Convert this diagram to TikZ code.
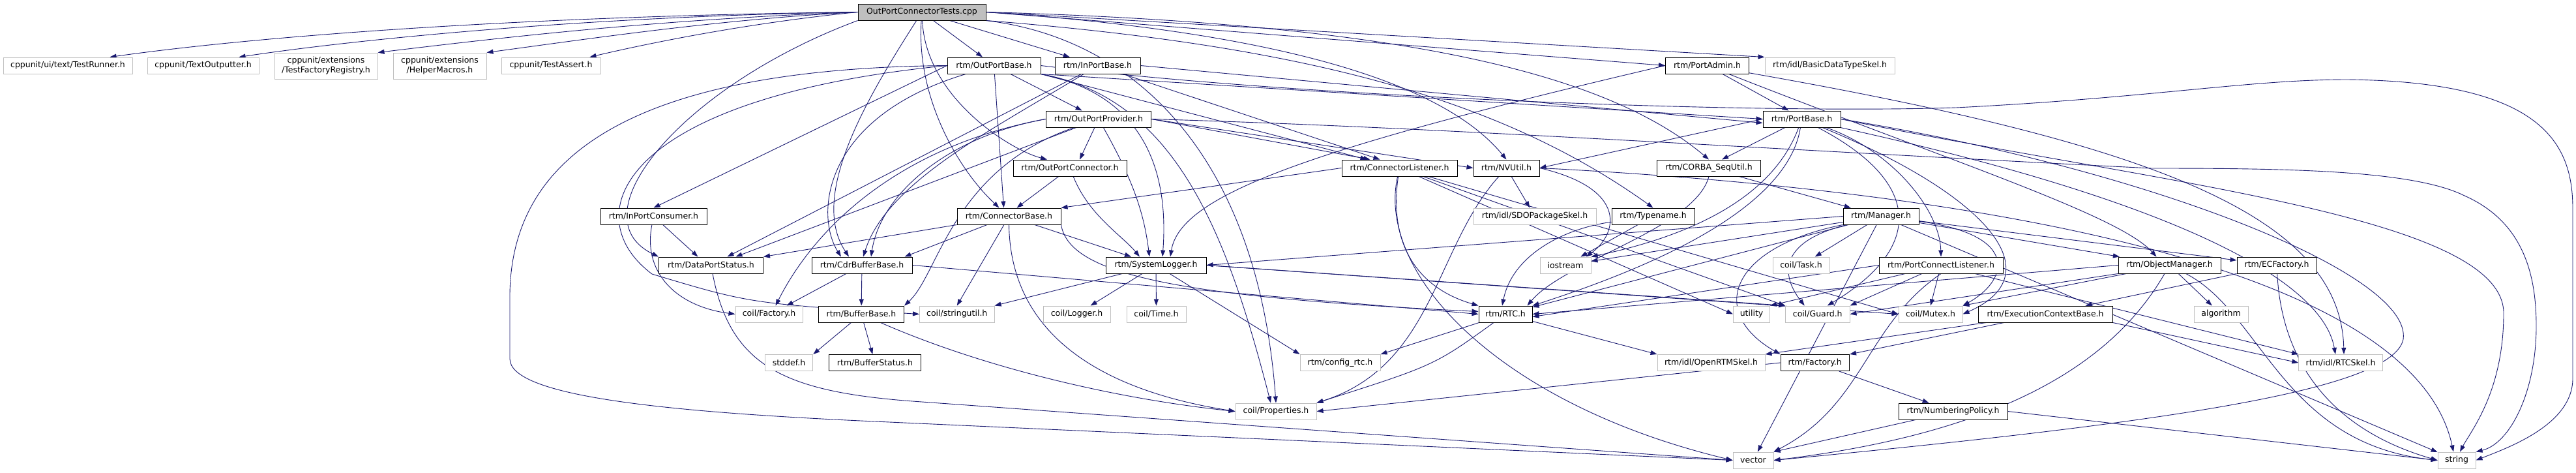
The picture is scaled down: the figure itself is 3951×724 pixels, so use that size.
\documentclass[tikz,border=0pt]{standalone}
\usepackage{fontspec}
\setmainfont{DejaVu Sans}
\usetikzlibrary{arrows.meta}
\pgfdeclarelayer{bg}
\pgfsetlayers{bg,main}
\definecolor{edgec}{RGB}{25,25,112}
\definecolor{gborder}{RGB}{191,191,191}
\definecolor{rootfill}{RGB}{191,191,191}
\tikzset{
  hbox/.style={draw=black, fill=white, line width=1pt, inner sep=0pt,
    minimum height=25pt, font=\fontsize{12.5}{15}\selectfont, align=center},
  gbox/.style={hbox, draw=gborder},
  rbox/.style={hbox, fill=rootfill},
  tallbox/.style={minimum height=40pt},
  dep/.style={draw=edgec, line width=0.9pt, -{Triangle[length=10pt,width=7pt]}},
}
\newcommand{\mkn}[6]{\node[#1, minimum width=#5pt] (#2) at (#3,#4) {#6};}
\begin{document}
\begin{tikzpicture}[x=1pt,y=-1pt]
\useasboundingbox (0,0) rectangle (3951,724);
% ---- nodes
\mkn{rbox}{R}{1414}{18.5}{196}{OutPortConnectorTests.cpp}
\mkn{gbox}{tr}{104}{100.5}{198}{cppunit/ui/text/TestRunner.h}
\mkn{gbox}{to}{311.5}{100.5}{171}{cppunit/TextOutputter.h}
\mkn{gbox,tallbox}{tfr}{500}{101}{158}{cppunit/extensions\\/TestFactoryRegistry.h}
\mkn{gbox,tallbox}{hm}{674.5}{101}{143}{cppunit/extensions\\/HelperMacros.h}
\mkn{gbox}{ta}{845}{100.5}{152}{cppunit/TestAssert.h}
\mkn{hbox}{opb}{1524.5}{100.5}{143}{rtm/OutPortBase.h}
\mkn{hbox}{ipb}{1683.5}{100.5}{131}{rtm/InPortBase.h}
\mkn{hbox}{pa}{2618.5}{100.5}{128}{rtm/PortAdmin.h}
\mkn{gbox}{bdt}{2806.5}{100.5}{199}{rtm/idl/BasicDataTypeSkel.h}
\mkn{hbox}{opp}{1685}{182.5}{161.5}{rtm/OutPortProvider.h}
\mkn{hbox}{pb}{2763.5}{182.5}{119}{rtm/PortBase.h}
\mkn{hbox}{opc}{1641}{257.5}{174}{rtm/OutPortConnector.h}
\mkn{hbox}{cl}{2146.5}{257.5}{177}{rtm/ConnectorListener.h}
\mkn{hbox}{nv}{2310.5}{257.5}{101}{rtm/NVUtil.h}
\mkn{hbox}{cs}{2621}{257.5}{158.5}{rtm/CORBA\_SeqUtil.h}
\mkn{hbox}{ipc}{1002.5}{331.5}{163}{rtm/InPortConsumer.h}
\mkn{hbox}{cb}{1547.5}{331.5}{159}{rtm/ConnectorBase.h}
\mkn{gbox}{sdo}{2354}{331.5}{188}{rtm/idl/SDOPackageSkel.h}
\mkn{hbox}{tn}{2535.5}{331.5}{127}{rtm/Typename.h}
\mkn{hbox}{mg}{2885}{331.5}{116}{rtm/Manager.h}
\mkn{hbox}{dps}{1090.5}{406.5}{160}{rtm/DataPortStatus.h}
\mkn{hbox}{cdr}{1322}{406.5}{154}{rtm/CdrBufferBase.h}
\mkn{hbox}{sl}{1773}{406.5}{154}{rtm/SystemLogger.h}
\mkn{gbox}{ios}{2401}{406.5}{78}{iostream}
\mkn{gbox}{task}{2762.5}{406.5}{87}{coil/Task.h}
\mkn{hbox}{pcl}{2977}{406.5}{190}{rtm/PortConnectListener.h}
\mkn{hbox}{om}{3327.5}{406.5}{157}{rtm/ObjectManager.h}
\mkn{hbox}{ecf}{3492}{406.5}{122}{rtm/ECFactory.h}
\mkn{gbox}{cf}{1179.5}{481.5}{103}{coil/Factory.h}
\mkn{hbox}{bb}{1321}{481.5}{131}{rtm/BufferBase.h}
\mkn{gbox}{su}{1467.75}{481.5}{114.5}{coil/stringutil.h}
\mkn{gbox}{lg}{1651.5}{481.5}{103}{coil/Logger.h}
\mkn{gbox}{tm}{1773.5}{481.5}{91}{coil/Time.h}
\mkn{hbox}{rtc}{2309}{481.5}{82}{rtm/RTC.h}
\mkn{gbox}{ut}{2686.5}{481.5}{56}{utility}
\mkn{gbox}{gd}{2787.75}{481.5}{98.5}{coil/Guard.h}
\mkn{gbox}{mx}{2961}{481.5}{98}{coil/Mutex.h}
\mkn{hbox}{ecb}{3137}{481.5}{206}{rtm/ExecutionContextBase.h}
\mkn{gbox}{alg}{3406.5}{481.5}{83}{algorithm}
\mkn{gbox}{sd}{1210}{556}{73.5}{stddef.h}
\mkn{hbox}{bs}{1342}{556}{141.5}{rtm/BufferStatus.h}
\mkn{gbox}{cr}{2055.5}{556}{123}{rtm/config\_rtc.h}
\mkn{gbox}{ors}{2624.5}{556}{165}{rtm/idl/OpenRTMSkel.h}
\mkn{hbox}{rf}{2783.75}{556}{105.5}{rtm/Factory.h}
\mkn{gbox}{rsk}{3590}{556}{128.5}{rtm/idl/RTCSkel.h}
\mkn{gbox}{prop}{1957}{630.5}{124}{coil/Properties.h}
\mkn{hbox}{np}{2995.5}{630.5}{167}{rtm/NumberingPolicy.h}
\mkn{gbox}{vec}{2689}{705.5}{62}{vector}
\mkn{gbox}{str}{3768}{705.5}{58}{string}
% ---- edges
\begin{pgfonlayer}{bg}
% root
\draw[dep] (R.west) .. controls (800,25) and (400,55) .. ([xshift=-35pt]tr.north east);
\draw[dep] (R.west) .. controls (900,25) and (550,60) .. ([xshift=-31pt]to.north east);
\draw[dep] (R.west) .. controls (1000,30) and (750,60) .. (tfr.north east);
\draw[dep] (R.west) .. controls (1100,30) and (900,60) .. (hm.north east);
\draw[dep] (R.west) .. controls (1150,35) and (1000,65) .. ([xshift=-17pt]ta.north east);
\draw[dep] (R) -- (opb);
\draw[dep] (R) -- (ipb);
\draw[dep] (R.east) -- (pa.west);
\draw[dep] (R.east) -- (bdt.north west);
\draw[dep] (R.east) .. controls (2100,35) and (2450,100) .. (cs.north);
\draw[dep] (R.east) .. controls (1900,45) and (2200,110) .. (nv.north);
\draw[dep] (R.south east) .. controls (2000,70) and (2300,150) .. (tn.north);
\draw[dep] (R.south east) .. controls (1750,60) and (1930,250) .. (prop.north);
\draw[dep] (R) .. controls (1420,150) and (1550,230) .. ([xshift=-35pt]opc.north);
\draw[dep] (R) .. controls (1405,150) and (1470,260) .. ([xshift=-15pt]cb.north);
\draw[dep] (R.south west) .. controls (1050,130) and (880,330) .. (dps.north west);
\draw[dep] (R) .. controls (1330,150) and (1240,300) .. ([xshift=-20pt]cdr.north);
% OutPortBase
\draw[dep] (opb) -- (opp);
\draw[dep] (opb) -- ([xshift=-8pt]cb.north);
\draw[dep] (opb.west) -- (ipc.north);
\draw[dep] (opb) .. controls (1260,180) and (1250,330) .. ([xshift=-32pt]cdr.north);
\draw[dep] (opb.west) .. controls (950,150) and (880,330) .. (1000,420) .. controls (1150,465) .. (su.west);
\draw[dep] (opb.west) .. controls (950,105) and (785,250) .. (782,450) -- (782,550) .. controls (782,605) and (1000,630) .. (1320,645) -- (vec.west);
\draw[dep] (opb.south east) -- (pb.west);
\draw[dep] (opb.south east) -- ([xshift=-50pt]cl.north);
\draw[dep] (opb.south east) .. controls (1780,150) and (1790,300) .. ([xshift=10pt]sl.north);
\draw[dep] (opb.south east) .. controls (1800,150) and (1880,350) .. ([xshift=-8pt]prop.north);
\draw[dep] (opb.east) .. controls (2000,150) and (2700,175) .. (3000,165) .. controls (3300,150) and (3450,122) .. (3600,122) .. controls (3900,125) and (3946,220) .. (3946,320) -- (3946,580) .. controls (3946,650) and (3850,685) .. (str.east);
% InPortBase
\draw[dep] (ipb.east) -- ([yshift=-6pt]pb.west);
\draw[dep] (ipb) -- ([xshift=-30pt]cl.north);
\draw[dep] (ipb) -- ([xshift=25pt]dps.north);
\draw[dep] (ipb) .. controls (1520,200) and (1360,280) .. ([xshift=2pt]cdr.north);
% PortAdmin
\draw[dep] (pa) -- ([xshift=-20pt]pb.north);
\draw[dep] (pa.west) .. controls (2000,230) and (1810,300) .. ([xshift=22pt]sl.north);
\draw[dep] (pa) .. controls (3000,250) and (3250,330) .. ([xshift=-20pt]om.north);
\draw[dep] (pa) .. controls (3300,220) and (3590,330) .. ([xshift=5pt]rsk.north);
% PortBase
\draw[dep] (pb) -- ([xshift=20pt]cs.north);
\draw[dep] (pb.west) -- (nv.east);
\draw[dep] (pb) .. controls (2720,300) and (2600,360) .. (ios.north east);
\draw[dep] (pb) .. controls (2740,330) and (2500,420) .. (rtc.north east);
\draw[dep] (pb) .. controls (2900,230) and (2975,320) .. (pcl.north);
\draw[dep] (pb) .. controls (2950,280) and (2950,380) .. ([xshift=15pt]gd.north);
\draw[dep] (pb) .. controls (3050,300) and (3150,420) .. (mx.east);
\draw[dep] (pb) .. controls (3300,300) and (3560,420) .. ([xshift=-8pt]rsk.north);
\draw[dep] (pb.east) .. controls (3300,280) and (3840,330) .. (3840,480) .. controls (3840,600) and (3790,660) .. ([xshift=5pt]str.north);
\draw[dep] (pb.east) .. controls (3300,260) and (3700,420) .. (3686,520) .. controls (3670,600) and (3300,650) .. (vec.east);
% OutPortProvider
\draw[dep] (opp) -- ([xshift=15pt]opc.north);
\draw[dep] (opp) -- ([xshift=38pt]dps.north);
\draw[dep] (opp) .. controls (1460,260) and (1440,420) .. (bb.north east);
\draw[dep] (opp.west) .. controls (1400,220) and (1260,330) .. ([xshift=10pt]cf.north);
\draw[dep] (opp.west) .. controls (1450,210) and (1350,300) .. ([xshift=14pt]cdr.north);
\draw[dep] (opp) .. controls (1740,280) and (1755,330) .. ([xshift=-10pt]sl.north);
\draw[dep] (opp.east) -- (nv.west);
\draw[dep] (opp.east) -- ([xshift=-45pt]cl.north);
\draw[dep] (opp.east) .. controls (2200,195) and (2640,225) .. (3300,258) .. controls (3500,258) and (3700,260) .. (3780,300) .. controls (3870,340) and (3890,420) .. (3890,500) .. controls (3890,600) and (3850,680) .. (str.north east);
% OutPortConnector
\draw[dep] (opc) -- ([xshift=12pt]cb.north);
\draw[dep] (opc) .. controls (1670,330) and (1720,360) .. ([xshift=-25pt]sl.north);
% ConnectorBase
\draw[dep] (cb.south west) -- (dps.north east);
\draw[dep] (cb) -- ([xshift=-12pt]cdr.north east);
\draw[dep] (cb) -- (su.north);
\draw[dep] (cb.south) .. controls (1550,520) and (1700,600) .. (prop.west);
\draw[dep] (cb.south east) .. controls (1640,420) and (1800,455) .. ([yshift=4pt]rtc.west);
\draw[dep] (cb) -- ([xshift=-38pt]sl.north);
% ConnectorListener
\draw[dep] (cl.west) -- (cb.north east);
\draw[dep] (cl) .. controls (2130,370) and (2170,440) .. (rtc.north west);
\draw[dep] (cl) .. controls (2110,420) and (2300,620) .. (vec.west);
\draw[dep] (cl) -- (ut.west);
\draw[dep] (cl) -- (gd.north west);
\draw[dep] (cl) -- (mx.west);
% NVUtil
\draw[dep] (nv) -- (sdo);
\draw[dep] (nv) .. controls (2200,380) and (2200,560) .. (prop.north east);
\draw[dep] (nv.east) .. controls (2500,290) and (2480,360) .. ([xshift=-8pt]ios.north east);
\draw[dep] (nv.east) .. controls (3000,290) and (3700,400) .. ([xshift=-5pt]str.north);
% CORBA_SeqUtil, Typename
\draw[dep] (cs) -- (mg);
\draw[dep] (cs.south) .. controls (2600,350) and (2400,400) .. ([xshift=-8pt]rtc.north east);
\draw[dep] (tn) -- (ios);
\draw[dep] (tn) .. controls (2400,350) and (2320,390) .. ([xshift=-5pt]rtc.north);
% Manager
\draw[dep] (mg.west) -- (sl.east);
\draw[dep] (mg) -- (rtc);
\draw[dep] (mg) -- (ios);
\draw[dep] (mg) -- (task);
\draw[dep] (mg) .. controls (2730,370) and (2730,420) .. ([xshift=-20pt]gd.north);
\draw[dep] (mg) .. controls (3100,360) and (3080,430) .. (mx.north east);
\draw[dep] (mg.south west) .. controls (2650,380) and (2620,480) .. (rf.north west);
\draw[dep] (mg) -- (om);
\draw[dep] (mg) -- (ecf);
\draw[dep] (mg) -- (vec);
\draw[dep] (mg) -- (str);
% ObjectManager
\draw[dep] (om) -- (alg);
\draw[dep] (om) -- (mx.north east);
\draw[dep] (om.south west) -- (gd.east);
\draw[dep] (om.west) -- (rtc.east);
\draw[dep] (om) .. controls (3250,540) and (3100,660) .. (vec.east);
\draw[dep] (om) .. controls (3470,480) and (3500,680) .. (str.west);
% ECFactory, ExecutionContextBase
\draw[dep] (ecf) -- (ecb);
\draw[dep] (ecf) .. controls (3500,560) and (3580,660) .. (str.west);
\draw[dep] (ecb) -- (ors.north east);
\draw[dep] (ecb) -- (rf.north east);
\draw[dep] (ecb.south east) -- (rsk.west);
% PortConnectListener
\draw[dep] (pcl) -- (ut.north east);
\draw[dep] (pcl) -- (gd.north east);
\draw[dep] (pcl) -- (mx.north);
\draw[dep] (pcl.south) .. controls (2860,500) and (2860,620) .. (vec.north east);
\draw[dep] (pcl.west) -- ([yshift=-4pt]rtc.east);
\draw[dep] (pcl) -- (rsk.north west);
% InPortConsumer, DataPortStatus, CdrBufferBase, BufferBase
\draw[dep] (ipc) -- ([xshift=-20pt]dps.north);
\draw[dep] (ipc) .. controls (985,420) and (1040,470) .. (cf.west);
\draw[dep] (dps) .. controls (1120,560) and (1200,600) .. (1400,615) -- (vec.west);
\draw[dep] (cdr) -- ([xshift=-25pt]cf.north east);
\draw[dep] (cdr) -- (bb);
\draw[dep] (cdr.east) -- (rtc.west);
\draw[dep] (bb) -- (sd.north east);
\draw[dep] (bb) -- (bs);
\draw[dep] (bb) .. controls (1500,560) and (1700,610) .. (prop.west);
% SystemLogger
\draw[dep] (sl) -- (su.north east);
\draw[dep] (sl) -- (lg);
\draw[dep] (sl) -- (tm);
\draw[dep] (sl) -- (cr.north west);
\draw[dep] (sl.east) -- (mx.west);
\draw[dep] (sl.east) -- (gd.north west);
% RTC, Factory, NumberingPolicy
\draw[dep] (rtc) -- (cr.north east);
\draw[dep] (rtc) -- (ors.north west);
\draw[dep] (rtc) .. controls (2200,560) .. (prop.north east);
\draw[dep] (rf) -- (np);
\draw[dep] (rf.west) -- (prop.east);
\draw[dep] (np) -- (vec.north east);
\draw[dep] (np.east) -- (str.west);
\end{pgfonlayer}
\end{tikzpicture}
\end{document}
